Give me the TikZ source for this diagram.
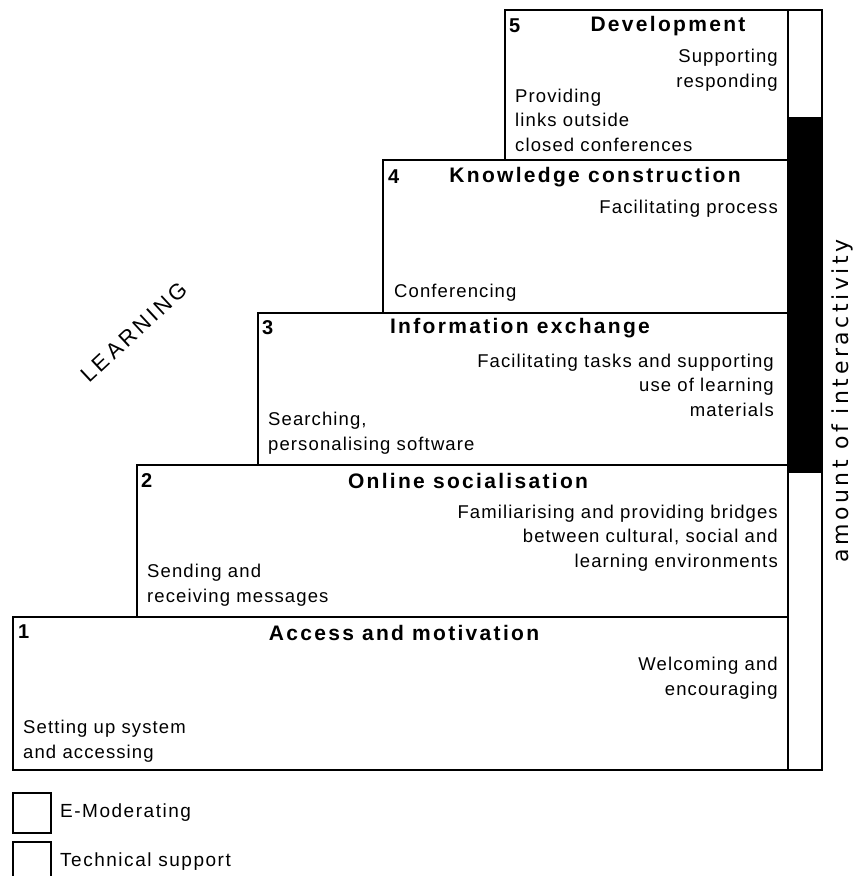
\documentclass[tikz,border=0pt]{standalone}
\usepackage{fontspec}
\setmainfont{Liberation Sans}
\newfontfamily\titlefont[LetterSpace=11]{Liberation Sans}
\newfontfamily\bodyfont[LetterSpace=6]{Liberation Sans}
\newfontfamily\legendfont[LetterSpace=8]{Liberation Sans}
\newfontfamily\learnfont[LetterSpace=15]{Liberation Sans}
\newfontfamily\sidefont[LetterSpace=16]{DejaVu Sans}
\tikzset{
  stage/.style={draw=black, line width=1.6pt},
  title/.style={inner sep=0pt, font=\titlefont\bfseries\fontsize{21}{24}\selectfont},
  num/.style={inner sep=0pt, anchor=west, font=\bfseries\fontsize{20}{22}\selectfont},
  rtext/.style={inner sep=0pt, anchor=east, align=right, font=\bodyfont\fontsize{18.5}{24.5}\selectfont},
  ltext/.style={inner sep=0pt, anchor=west, align=left, font=\bodyfont\fontsize{18.5}{24.5}\selectfont},
  legtext/.style={inner sep=0pt, anchor=west, font=\legendfont\fontsize{19}{22}\selectfont},
}
\begin{document}
\begin{tikzpicture}[x=1pt,y=-1pt]
\useasboundingbox (0,0) rectangle (855,876);
% stages
\draw[stage] (13,617) rectangle (788,770);
\draw[stage] (137,465) rectangle (788,617);
\draw[stage] (258,313) rectangle (788,465);
\draw[stage] (383,160) rectangle (788,313);
\draw[stage] (505,10) rectangle (788,160);
% interactivity bar
\fill[black] (788,117) rectangle (822,473);
\draw[stage] (788,10) rectangle (822,770);
% stage 5
\node[num] (n5) at (509,26) {5};
\node[title] (t5) at (668,26) {Development};
\node[rtext] (r5) at (778,70) {Supporting\\responding};
\node[ltext] (l5) at (515,120) {Providing\\links outside\\closed conferences};
% stage 4
\node[num] (n4) at (388,177) {4};
\node[title] (t4) at (595,177) {Knowledge construction};
\node[rtext] (r4) at (778,209) {Facilitating process};
\node[ltext] (l4) at (394,293) {Conferencing};
% stage 3
\node[num] (n3) at (262,328) {3};
\node[title] (t3) at (520,328) {Information exchange};
\node[rtext] (r3) at (774,385) {Facilitating tasks and supporting\\use of learning\\materials};
\node[ltext] (l3) at (268,433) {Searching,\\personalising software};
% stage 2
\node[num] (n2) at (141,481) {2};
\node[title] (t2) at (468,481) {Online socialisation};
\node[rtext] (r2) at (778,538) {Familiarising and providing bridges\\between cultural, social and\\learning environments};
\node[ltext] (l2) at (147,585) {Sending and\\receiving messages};
% stage 1
\node[num] (n1) at (18,632) {1};
\node[title] (t1) at (404,633) {Access and motivation};
\node[rtext] (r1) at (778,678) {Welcoming and\\encouraging};
\node[ltext] (l1) at (23,741) {Setting up system\\and accessing};
% side labels
\node[inner sep=0pt, rotate=43, font=\learnfont\fontsize{22}{24}\selectfont] (learn) at (134,332) {LEARNING};
\node[inner sep=0pt, rotate=90, font=\sidefont\fontsize{22}{24}\selectfont] (amount) at (842,401) {amount of interactivity};
% legend
\draw[stage] (13,793) rectangle (51,833);
\draw[stage] (13,842) rectangle (51,880);
\node[legtext] (e1) at (60,813) {E-Moderating};
\node[legtext] (e2) at (60,862) {Technical support};
\end{tikzpicture}
\end{document}
